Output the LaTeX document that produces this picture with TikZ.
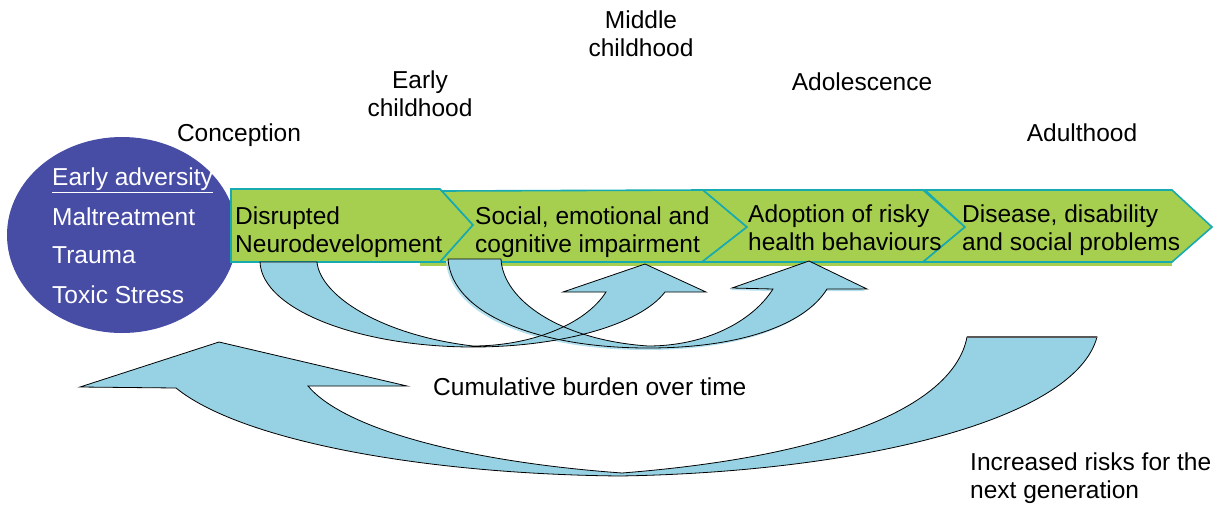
\documentclass[tikz,border=0pt]{standalone}
\usepackage{fontspec}
\setmainfont{Liberation Sans}
\usetikzlibrary{shapes.geometric}
\definecolor{advblue}{RGB}{71,76,165}
\definecolor{chevfill}{RGB}{167,207,79}
\definecolor{chevline}{RGB}{23,170,176}
\definecolor{arrowfill}{RGB}{150,210,227}
\definecolor{arrowshade}{RGB}{178,224,238}
\newcommand\lstrut{\rule[-5pt]{0pt}{22.5pt}}
\def\pathA{(260,262) .. controls (262,310) and (360,347) .. (473,347)
  .. controls (560,347) and (640,325) .. (665,292) -- (706,292) -- (645,264)
  -- (563,292) -- (606,292) .. controls (585,325) and (530,346) .. (473,346)
  .. controls (380,335) and (320,295) .. (317,262) -- cycle}
\def\pathB{(448,259) .. controls (452,315) and (540,348) .. (648,348)
  .. controls (740,348) and (805,325) .. (827,289) -- (867,289) -- (809,261)
  -- (732,288) -- (773,289) .. controls (752,322) and (705,346) .. (648,346)
  .. controls (560,340) and (503,300) .. (501,259) -- cycle}
\def\pathC{(176,388) .. controls (240,440) and (420,474) .. (620,476)
  .. controls (860,472) and (1075,420) .. (1097,337) -- (967,337)
  .. controls (955,400) and (850,455) .. (622,473)
  .. controls (470,462) and (345,430) .. (308,386) -- (407,386) -- (219,342)
  -- (80,387) -- cycle}
\begin{document}
\begin{tikzpicture}[x=1pt,y=-1pt,
  lbl/.style={inner sep=0pt, font=\fontsize{24.5}{28.5}\selectfont, align=center},
  lbll/.style={lbl, align=left, anchor=west},
  wlbl/.style={lbll, text=white},
  chev/.style={fill=chevfill, draw=chevline, line width=1.6pt, line join=miter},
  curvfill/.style={fill=arrowfill},
  curvline/.style={draw=black, line width=0.8pt, line join=miter}]
\useasboundingbox (0,0) rectangle (1219,504);
% early adversity ellipse
\node[ellipse, fill=advblue, minimum width=230pt, minimum height=196pt, inner sep=0pt] (adv) at (122,235) {};
% green strip under chevrons
\fill[chevfill] (420,258) rectangle (1172,265.5);
% chevrons
\draw[chev] (231,189) -- (440,189) -- (473,225) -- (440,262) -- (231,262) -- cycle;
\draw[chev] (442,191) -- (703,190) -- (747,227) -- (702,262) -- (440,262) -- (473,225) -- cycle;
\draw[chev] (703,190) -- (923,190) -- (965,227) -- (923,262) -- (702,262) -- (747,227) -- cycle;
\draw[chev] (925,190) -- (1172,190) -- (1212,227) -- (1172,262) -- (923,262) -- (965,227) -- cycle;
% ellipse text
\node[wlbl] (ea) at (52,180.4) {\lstrut\underline{Early adversity}};
\node[wlbl] (mal) at (52,219) {\lstrut Maltreatment};
\node[wlbl] (tra) at (52,257.5) {\lstrut Trauma};
\node[wlbl] (tox) at (52,297.4) {\lstrut Toxic Stress};
% chevron text
\node[lbll] (t1) at (235,232) {\lstrut Disrupted\\\lstrut Neurodevelopment};
\node[lbll] (t2) at (475,232) {\lstrut Social, emotional and\\\lstrut cognitive impairment};
\node[lbll] (t3) at (748,230) {\lstrut Adoption of risky\\\lstrut health behaviours};
\node[lbll] (t4) at (962,230) {\lstrut Disease, disability\\\lstrut and social problems};
% curved arrows
\fill[arrowshade, shift={(-2,2)}] \pathB;
\fill[curvfill] \pathA;
\fill[curvfill] \pathB;
\path[curvline] \pathA;
\path[curvline] \pathB;
\fill[curvfill] \pathC;
\path[curvline] \pathC;
\draw[black!65, line width=1.3pt] (967,337) -- (1097,337);
% stage labels
\node[lbl] (conc) at (239,135.4) {\lstrut Conception};
\node[lbl] (early) at (420,96) {\lstrut Early\\\lstrut childhood};
\node[lbl] (mid) at (641,36) {\lstrut Middle\\\lstrut childhood};
\node[lbl] (adol) at (862,84.4) {\lstrut Adolescence};
\node[lbl] (adult) at (1082,135.4) {\lstrut Adulthood};
% bottom labels
\node[lbll] (cum) at (433,389.4) {\lstrut Cumulative burden over time};
\node[lbll] (inc) at (970,478.4) {\lstrut Increased risks for the\\\lstrut next generation};
\end{tikzpicture}
\end{document}
